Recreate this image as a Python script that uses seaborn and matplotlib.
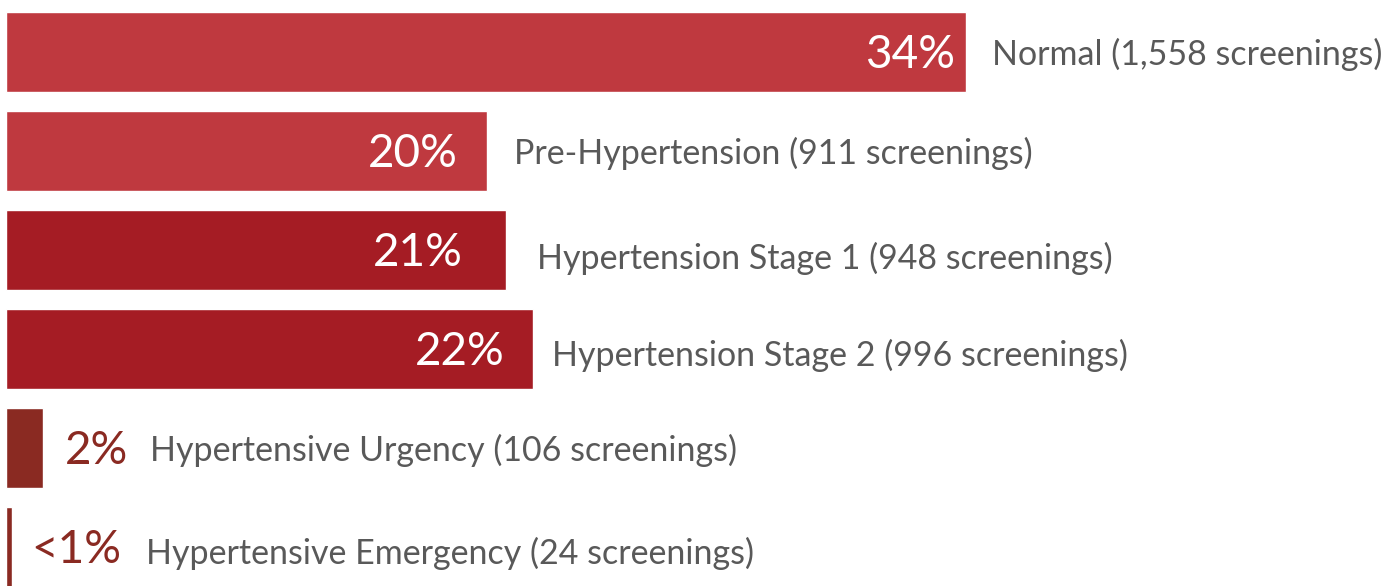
import matplotlib
matplotlib.use("Agg")
import matplotlib.pyplot as plt
import seaborn as sns
import pandas as pd

# ---- data ----
categories = ["Normal", "Pre-Hypertension", "Hypertension Stage 1",
              "Hypertension Stage 2", "Hypertensive Urgency", "Hypertensive Emergency"]
screenings = ["1,558", "911", "948", "996", "106", "24"]
pct_labels = ["34%", "20%", "21%", "22%", "2%", "<1%"]
bar_lengths = [34.0, 17.05, 17.7, 18.65, 1.3, 0.2]   # drawn bar length, as in the picture
bar_colors = ["#BF393F", "#BF393F", "#A51C24", "#A51C24", "#8A2A22", "#8A2A22"]

# ---- style / layout ----
sns.set_theme(style="white")
plt.rcParams["font.family"] = ["Lato", "DejaVu Sans"]

W, H, DPI = 1385, 586, 100
fig = plt.figure(figsize=(W / DPI, H / DPI), dpi=DPI)
ax = fig.add_axes([0, 0, 1, 1])

df = pd.DataFrame({"category": categories, "length": bar_lengths})
sns.barplot(data=df, x="length", y="category", hue="category",
            palette=bar_colors, legend=False, width=0.81, ax=ax,
            orient="h", saturation=1)

px_per_unit = 960 / 34.0
left_px = 6
ax.set_xlim(-left_px / px_per_unit, (W - left_px) / px_per_unit)
row_px = 99.0
ax.set_ylim((H - 52) / row_px, -52 / row_px)
ax.axis("off")

def px(dx):
    return dx / px_per_unit

inside = [True, True, True, True, False, False]
pct_offsets = [11, 30, 43, 28, 22, 20]      # px gap from bar end (inside: right edge; outside: left edge)
label_gaps = [26, 27, 31, 19, 107, 134]     # px gap from bar end to category label
label_dy = [0.02, 0.02, 0.09, 0.06, 0.02, 0.06]
pct_dy = 0.03

pct_size = 33
lab_size = 24.5
for i, (L, pl, cat, n) in enumerate(zip(bar_lengths, pct_labels, categories, screenings)):
    if inside[i]:
        ax.text(L - px(pct_offsets[i]), i + pct_dy, pl, ha="right", va="center",
                color="white", fontsize=pct_size)
    else:
        ax.text(L + px(pct_offsets[i]), i + pct_dy, pl, ha="left", va="center",
                color="#8A2A22", fontsize=pct_size)
    ax.text(L + px(label_gaps[i]), i + label_dy[i], f"{cat} ({n} screenings)",
            ha="left", va="center", color="#595959", fontsize=lab_size)

fig.savefig("out.png", dpi=DPI)
